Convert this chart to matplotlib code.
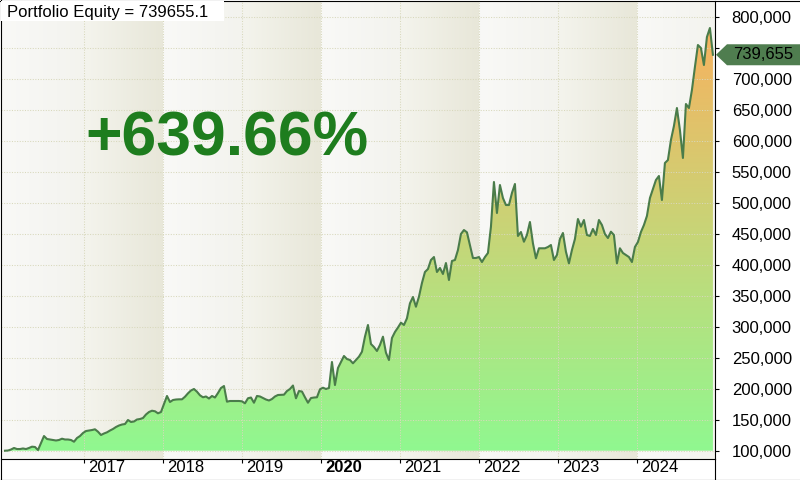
import numpy as np
import pandas as pd
import matplotlib
matplotlib.use('Agg')
import matplotlib.pyplot as plt
import matplotlib.dates as mdates
from matplotlib.colors import LinearSegmentedColormap
from matplotlib.patches import Polygon, Rectangle
from matplotlib.lines import Line2D
from matplotlib.ticker import FuncFormatter
from matplotlib.transforms import ScaledTranslation

plt.rcParams['font.family'] = ['Liberation Sans', 'DejaVu Sans']

equity_k = [
    100.0, 100.3, 101.9, 104.4, 102.7, 102.7, 103.6, 102.7, 104.4, 106.5,
    106.0, 101.1, 112.4, 123.7, 118.9, 118.1, 117.3, 116.5, 117.3, 119.4,
    118.1, 118.1, 117.3, 114.5, 120.5, 123.7, 128.6, 131.8, 132.6, 133.4,
    134.6, 130.7, 125.4, 127.8, 129.7, 132.6, 135.1, 138.3, 140.7, 142.3,
    143.1, 149.6, 146.4, 147.2, 150.4, 151.2, 152.8, 158.5, 162.5, 164.6,
    163.7, 160.4, 162.5, 175.4, 188.4, 178.7, 181.9, 182.7, 183.0, 183.0,
    187.2, 192.7, 197.3, 199.7, 195.3, 189.5, 186.3, 187.6, 184.3, 188.4,
    185.9, 193.2, 201.3, 204.5, 179.2, 180.3, 180.3, 180.3, 180.3, 179.8,
    176.6, 184.7, 185.9, 177.5, 188.4, 187.6, 185.1, 182.7, 181.1, 183.5,
    187.6, 190.0, 190.3, 190.5, 196.4, 199.7, 205.3, 184.7, 196.4, 195.6,
    186.3, 177.5, 185.1, 185.9, 186.3, 199.2, 201.8, 199.7, 201.3, 243.3,
    206.1, 233.6, 243.3, 253.0, 248.1, 246.5, 241.2, 246.5, 251.9, 259.9,
    284.2, 303.1, 272.4, 267.5, 261.1, 270.8, 284.2, 258.3, 246.5, 282.1,
    291.8, 299.0, 306.8, 303.1, 313.9, 338.1, 348.3, 332.6, 348.8, 370.9,
    388.7, 393.5, 408.1, 412.9, 388.7, 395.2, 385.5, 403.2, 375.8, 406.5,
    408.1, 424.2, 450.1, 456.5, 452.8, 432.3, 411.3, 411.3, 412.9, 404.8,
    412.9, 419.4, 461.9, 534.1, 484.0, 529.2, 508.2, 496.9, 496.9, 516.3,
    530.9, 446.9, 453.3, 437.6, 448.5, 469.5, 435.1, 410.8, 427.0, 427.0,
    427.0, 429.1, 432.3, 408.1, 416.2, 442.0, 451.7, 421.5, 402.7, 424.2,
    442.0, 474.3, 461.9, 472.7, 448.5, 446.9, 458.2, 448.5, 472.7, 464.6,
    450.1, 443.6, 453.8, 448.5, 402.7, 427.0, 419.4, 416.2, 412.9, 404.8,
    429.1, 437.2, 453.3, 464.6, 479.2, 508.2, 522.8, 537.3, 543.8, 505.0,
    564.8, 569.6, 601.9, 624.5, 653.6, 618.1, 572.9, 660.1, 653.6, 682.7,
    719.9, 755.4, 750.6, 723.1, 768.3, 782.9, 739.655,
]
first_day = '2016-01-01'
last_day = '2024-12-17'
year_labels = ['2017', '2018', '2019', '2020', '2021', '2022', '2023', '2024']
y_ticks = [100000, 150000, 200000, 250000, 300000, 350000, 400000, 450000,
           500000, 550000, 600000, 650000, 700000, 750000, 800000]
title_text = 'Portfolio Equity = 739655.1'
gain_text = '+639.66%'

equity = np.array(equity_k) * 1000
dates = pd.date_range(first_day, last_day, periods=len(equity))
xd = mdates.date2num(dates)

# view limits (a year is ~79 px wide on the reference)
day_px = 365.25 / 79
x_lo = mdates.date2num(pd.Timestamp(first_day) - pd.Timedelta(days=4 * day_px))
x_hi = mdates.date2num(pd.Timestamp(first_day) + pd.Timedelta(days=710 * day_px))
y_lo, y_hi = 86600, 826500

fig = plt.figure(figsize=(8, 4.8), dpi=100)
fig.patch.set_facecolor('white')
ax = fig.add_axes([1 / 800, 21 / 480, 714 / 800, 458 / 480])
ax.set_facecolor('#f7f7f4')

# alternating yearly background bands
year_x = [mdates.date2num(pd.Timestamp(y + '-01-01')) for y in year_labels]
edges = [x_lo] + year_x + [x_hi]
light = LinearSegmentedColormap.from_list('light', ['#f9f9f7', '#f3f3ee'])
dark = LinearSegmentedColormap.from_list('dark', ['#f4f4ed', '#e8e7d9'])
ramp = np.linspace(0, 1, 64).reshape(1, -1)
for i in range(len(edges) - 1):
    ax.imshow(ramp, cmap=dark if i % 2 else light, aspect='auto',
              extent=[edges[i], edges[i + 1], y_lo, y_hi], zorder=0)

# gradient fill under the curve
poly = ax.fill_between(xd, equity, equity.min(), facecolor='none', edgecolor='none')
fill_cmap = LinearSegmentedColormap.from_list('eq', ['#90f890', '#c6d678', '#f7b25f'])
grad = np.linspace(0, 1, 256).reshape(-1, 1)
im = ax.imshow(grad, cmap=fill_cmap, origin='lower', aspect='auto',
               extent=[xd[0], xd[-1], equity.min(), equity.max()], zorder=2)
im.set_clip_path(poly.get_paths()[0], transform=ax.transData)

ax.plot(xd, equity, color='#4a7c4a', lw=1.5, zorder=3)

ax.set_xlim(x_lo, x_hi)
ax.set_ylim(y_lo, y_hi)

ax.set_axisbelow(False)
ax.grid(True, color='#d8d8bc', linestyle=(0, (1, 1.5)), linewidth=0.75)

ax.set_xticks(year_x)
ax.set_xticklabels(year_labels)
ax.tick_params(axis='x', direction='out', length=3, width=0.8, pad=-2,
               labelsize=12, colors='black')
shift = ScaledTranslation(0.04, 0, fig.dpi_scale_trans)
for lbl in ax.get_xticklabels():
    lbl.set_horizontalalignment('left')
    lbl.set_transform(lbl.get_transform() + shift)
    if lbl.get_text() == '2020':
        lbl.set_fontweight('bold')

last_val = equity[-1]


def money(v, pos):
    # the label under the last-value marker is hidden by it
    if abs(v - last_val) < 20000:
        return ''
    return f'{v:,.0f}'


ax.yaxis.tick_right()
ax.set_yticks(y_ticks)
ax.yaxis.set_major_formatter(FuncFormatter(money))
ax.tick_params(axis='y', direction='out', length=3, width=0.8, pad=9,
               labelsize=12, colors='black')

for side in ['left', 'top']:
    ax.spines[side].set_visible(False)
for side in ['right', 'bottom']:
    ax.spines[side].set_color('black')
    ax.spines[side].set_linewidth(0.8)

# right axis line runs down through the date strip, plus outer frame
fig.add_artist(Line2D([715 / 800, 715 / 800], [0, 21 / 480], color='black', lw=0.8))
fig.add_artist(Line2D([0.5 / 800, 0.5 / 800], [0, 1], color='black', lw=0.8))
fig.add_artist(Line2D([0, 1], [479.5 / 480, 479.5 / 480], color='black', lw=0.8))
fig.add_artist(Line2D([0, 1], [0.5 / 480, 0.5 / 480], color='black', lw=0.8))

# title in a white box
fig.add_artist(Rectangle((1 / 800, 1 - 21 / 480), 223 / 800, 20 / 480,
                         facecolor='white', edgecolor='none', zorder=4))
fig.text(7 / 800, 1 - 17 / 480, title_text, fontsize=12, color='black',
         va='baseline', ha='left', zorder=5)

fig.text(85 / 800, 1 - 155 / 480, gain_text, fontsize=45, fontweight='bold',
         color='#1e7d1e', va='baseline', ha='left')

# last value marker on the price axis
yd = ax.transData.transform((x_hi, last_val))[1]
arrow = Polygon([(716, yd), (727, yd + 10.5), (800, yd + 10.5),
                 (800, yd - 10.5), (727, yd - 10.5)], closed=True,
                transform=None, facecolor='#4f7d4f', edgecolor='none')
fig.add_artist(arrow)
fig.text(733 / 800, yd / 480, f'{last_val:,.0f}', fontsize=12, color='black',
         va='center', ha='left')

fig.savefig('out.png', dpi=100)
